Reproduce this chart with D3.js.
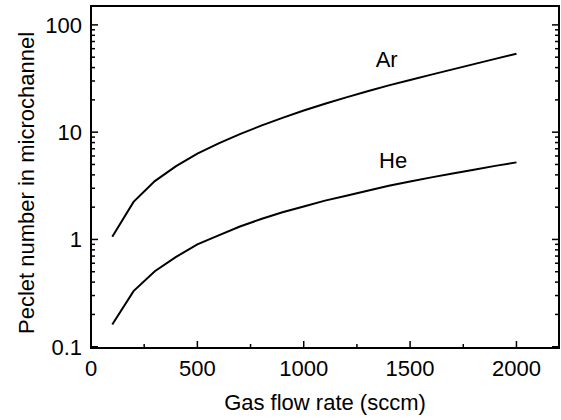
<!DOCTYPE html>
<html>
<head>
<meta charset="utf-8">
<script src="https://cdn.jsdelivr.net/npm/d3@7"></script>
<style>
  html, body { margin: 0; padding: 0; background: #fff; }
  svg { display: block; }
  text { font-family: "Liberation Sans", Arial, Helvetica, sans-serif; fill: #000; }
</style>
</head>
<body>
<svg id="chart" width="561" height="420"></svg>
<script>
// Gas flow rate (sccm)
const flowRate = [100, 200, 300, 400, 500, 600, 700, 800, 900, 1000,
                  1100, 1200, 1300, 1400, 1500, 1600, 1700, 1800, 1900, 2000];
// Peclet number in the microchannel for each gas
const pecletAr = [1.06, 2.24, 3.50, 4.83, 6.3, 7.85, 9.6, 11.5, 13.6, 15.9,
                  18.4, 21.1, 24.1, 27.3, 30.7, 34.4, 38.5, 43.1, 48.2, 53.9];
const pecletHe = [0.161, 0.330, 0.506, 0.688, 0.90, 1.09, 1.32, 1.55, 1.79, 2.03,
                  2.30, 2.56, 2.85, 3.16, 3.47, 3.79, 4.12, 4.47, 4.85, 5.23];
const xTicks = [0, 500, 1000, 1500, 2000];
const yTicks = [0.1, 1, 10, 100];
const yTickLabels = ["0.1", "1", "10", "100"];
const seriesNames = ["Ar", "He"];

const W = 561, H = 420;
const margin = { top: 6, right: 2, bottom: 72, left: 91 };
const svg = d3.select("#chart");

const x = d3.scaleLinear().domain([0, 2200]).range([margin.left, W - margin.right]);
const y = d3.scaleLog().domain([0.0973, 150]).range([H - margin.bottom, margin.top]);

const x0 = margin.left, x1 = W - margin.right;
const y0 = H - margin.bottom, y1 = margin.top;

// minor ticks
const xMinor = d3.range(250, 2200, 500);
const yMinor = [];
for (let e = -1; e <= 2; e++) {
  for (let m = 2; m <= 9; m++) {
    const v = m * Math.pow(10, e);
    if (v > y.domain()[0] && v < y.domain()[1]) yMinor.push(v);
  }
}

const tickG = svg.append("g").attr("stroke", "#000").attr("stroke-width", 1.5);
// bottom axis ticks (inside)
xTicks.forEach(v => tickG.append("line").attr("x1", x(v)).attr("x2", x(v)).attr("y1", y0).attr("y2", y0 - 7));
xMinor.forEach(v => tickG.append("line").attr("x1", x(v)).attr("x2", x(v)).attr("y1", y0).attr("y2", y0 - 4));
// left and right axis ticks (inside)
yTicks.forEach(v => {
  tickG.append("line").attr("x1", x0).attr("x2", x0 + 7).attr("y1", y(v)).attr("y2", y(v));
  tickG.append("line").attr("x1", x1).attr("x2", x1 - 7).attr("y1", y(v)).attr("y2", y(v));
});
yMinor.forEach(v => {
  tickG.append("line").attr("x1", x0).attr("x2", x0 + 4).attr("y1", y(v)).attr("y2", y(v));
  tickG.append("line").attr("x1", x1).attr("x2", x1 - 4).attr("y1", y(v)).attr("y2", y(v));
});

// frame
svg.append("rect")
  .attr("x", x0).attr("y", y1)
  .attr("width", x1 - x0).attr("height", y0 - y1)
  .attr("fill", "none").attr("stroke", "#000").attr("stroke-width", 2);

// tick labels
const fs = 22;
svg.append("g").selectAll("text").data(xTicks).join("text")
  .attr("x", d => x(d)).attr("y", y0 + 27.5)
  .attr("text-anchor", "middle").attr("font-size", fs)
  .text(d => d3.format("d")(d));

svg.append("g").selectAll("text").data(yTicks).join("text")
  .attr("x", x0 - 9).attr("y", d => y(d)).attr("dy", "0.36em")
  .attr("text-anchor", "end").attr("font-size", fs)
  .text((d, i) => yTickLabels[i]);

// axis titles
svg.append("text")
  .attr("x", (x0 + x1) / 2).attr("y", 410)
  .attr("text-anchor", "middle").attr("font-size", fs)
  .text("Gas flow rate (sccm)");

svg.append("text")
  .attr("transform", `translate(34,${(y0 + y1) / 2 + 6}) rotate(-90)`)
  .attr("text-anchor", "middle").attr("font-size", fs)
  .text("Peclet number in microchannel");

// curves
const line = d3.line().x(d => x(d[0])).y(d => y(d[1]));
[pecletAr, pecletHe].forEach(vals => {
  svg.append("path")
    .datum(flowRate.map((q, i) => [q, vals[i]]))
    .attr("d", line)
    .attr("fill", "none").attr("stroke", "#000").attr("stroke-width", 2);
});

// series labels
const labelPos = [[1390, 40.7], [1420, 4.6]];
seriesNames.forEach((name, i) => {
  svg.append("text")
    .attr("x", x(labelPos[i][0])).attr("y", y(labelPos[i][1]))
    .attr("text-anchor", "middle").attr("font-size", fs)
    .text(name);
});
</script>
</body>
</html>
